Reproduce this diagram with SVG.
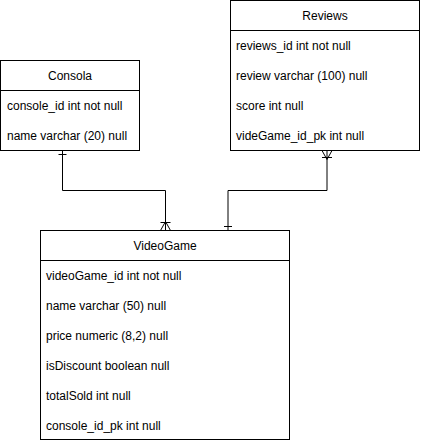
<svg xmlns="http://www.w3.org/2000/svg" width="421" height="441" viewBox="0 0 421 441">
<style>
.box{fill:#fff;stroke:#000;stroke-width:1}
.ln{fill:none;stroke:#000;stroke-width:1}
.t{font-family:"Liberation Sans",Arial,sans-serif;font-size:12px;fill:#000}
.h{text-anchor:middle}
</style>
<rect width="421" height="441" fill="#fff"/>
<g id="Consola">
<rect class="box" x="0.5" y="60.5" width="139" height="90"/>
<line class="ln" x1="0.5" y1="90.5" x2="139.5" y2="90.5"/>
<text class="t h" x="70" y="80">Consola</text>
<text class="t" x="7" y="110">console_id int not null</text>
<text class="t" x="7" y="140">name varchar (20) null</text>
</g>
<g id="Reviews">
<rect class="box" x="230.5" y="0.5" width="189" height="150"/>
<line class="ln" x1="230.5" y1="30.5" x2="419.5" y2="30.5"/>
<text class="t h" x="325" y="20">Reviews</text>
<text class="t" x="236" y="50">reviews_id int not null</text>
<text class="t" x="236" y="80">review varchar (100) null</text>
<text class="t" x="236" y="110">score int null</text>
<text class="t" x="236" y="140">videGame_id_pk int null</text>
</g>
<g id="VideoGame">
<rect class="box" x="40.5" y="230.5" width="249" height="209"/>
<line class="ln" x1="40.5" y1="260.5" x2="289.5" y2="260.5"/>
<text class="t h" x="165" y="250">VideoGame</text>
<text class="t" x="46" y="280">videoGame_id int not null</text>
<text class="t" x="46" y="310">name varchar (50) null</text>
<text class="t" x="46" y="340">price numeric (8,2) null</text>
<text class="t" x="46" y="370">isDiscount boolean null</text>
<text class="t" x="46" y="400">totalSold int null</text>
<text class="t" x="46" y="430">console_id_pk int null</text>
</g>
<g id="connectors">
<path class="ln" d="M62.5,150.5 V190.5 H165.5 V230.5"/>
<path class="ln" d="M58.5,154.5 H66.5"/>
<path class="ln" d="M160.5,230.5 L165.5,221.5 L170.5,230.5 M160.5,222.5 H170.5"/>
<path class="ln" d="M327,150.5 V190.5 H228 V230.5"/>
<path class="ln" d="M224,226.5 H232"/>
<path class="ln" d="M322,150.5 L327,159.5 L332,150.5 M322,157.5 H332"/>
</g>
</svg>
